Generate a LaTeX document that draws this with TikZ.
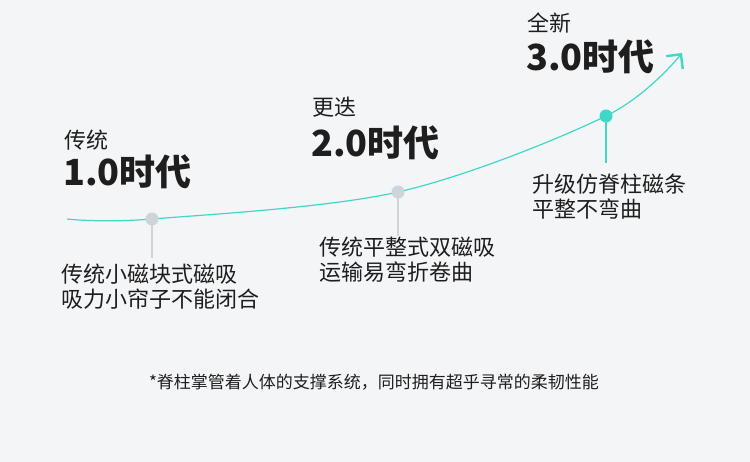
\documentclass[tikz,border=0pt]{standalone}
\usepackage{fontspec}
\setmainfont{Noto Sans CJK SC}
\usetikzlibrary{arrows.meta}
\definecolor{bgray}{HTML}{F4F5F7}
\definecolor{teal}{HTML}{3ED8C8}
\definecolor{dotgray}{HTML}{CDD5D8}
\definecolor{txt}{HTML}{1E1E1E}

\begin{document}
\begin{tikzpicture}[
    x=1pt, y=-1pt,
    small/.style={anchor=west, inner sep=0, text=txt, font=\fontsize{22}{26}\selectfont},
    big/.style={anchor=west, inner sep=0, text=txt, font=\fontsize{36}{40}\selectfont\bfseries},
    desc/.style={anchor=west, inner sep=0, text=txt, align=left, font=\fontsize{22}{25}\selectfont},
    dot/.style={circle, fill=dotgray, inner sep=0, minimum size=13pt},
    stem/.style={dotgray, line width=1.6pt}
]
\fill[bgray] (0,0) rectangle (750,462);
\useasboundingbox (0,0) rectangle (750,462);

% curve
\coordinate (s) at (67,219);
\coordinate (d1) at (152,219);
\coordinate (d2) at (398,192);
\coordinate (d3) at (606,116);
\coordinate (e) at (682,53);
\draw[teal, line width=1.2pt, -{Straight Barb[length=10.5pt, width=21pt, line width=2.4pt]}]
    plot[smooth, tension=0.55] coordinates {(s) (d1) (d2) (d3) (e)};

% stems
\coordinate (b1) at (152,258);
\coordinate (b2) at (398,236);
\coordinate (b3) at (606,163);
\draw[stem] (d1) -- (b1);
\draw[stem] (d2) -- (b2);
\draw[teal, line width=1.6pt] (d3) -- (b3);
\node[dot] (n1) at (d1) {};
\node[dot] (n2) at (d2) {};
\node[dot, fill=teal] (n3) at (d3) {};

% eras
\node[small] (t1) at (64,140) {传统};
\node[big] (v1) at (63,172) {1.0时代};
\node[small] (t2) at (312,107) {更迭};
\node[big] (v2) at (311,143) {2.0时代};
\node[small] (t3) at (527,23) {全新};
\node[big] (v3) at (526,57) {3.0时代};

% descriptions
\node[desc] (c1) at (61,286.5) {传统小磁块式磁吸\\吸力小帘子不能闭合};
\node[desc] (c2) at (319,259.5) {传统平整式双磁吸\\运输易弯折卷曲};
\node[desc] (c3) at (532,196.5) {升级仿脊柱磁条\\平整不弯曲};

\node[inner sep=0, text=txt, font=\fontsize{17}{20}\selectfont] (note) at (374,382)
    {*脊柱掌管着人体的支撑系统，同时拥有超乎寻常的柔韧性能};
\end{tikzpicture}
\end{document}
